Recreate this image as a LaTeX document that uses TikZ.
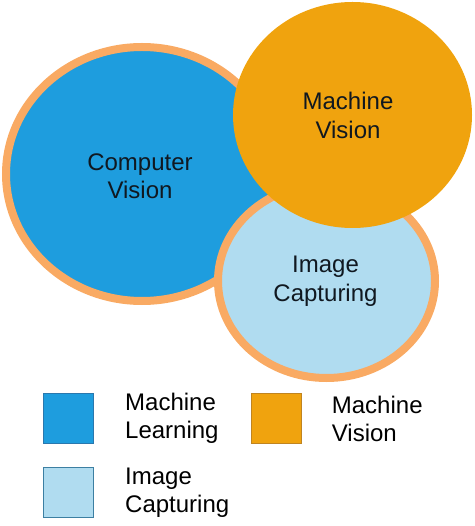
\documentclass[tikz,border=0pt]{standalone}
\usepackage{fontspec}
\setmainfont{Liberation Sans}
\usetikzlibrary{shapes.geometric}
\definecolor{cvblue}{HTML}{1E9DDE}
\definecolor{mvorange}{HTML}{F0A30E}
\definecolor{iclight}{HTML}{B0DCF0}
\definecolor{rimorange}{HTML}{F9AA63}
\definecolor{sqblueline}{HTML}{2A78AE}
\definecolor{sqorangeline}{HTML}{C08420}
\definecolor{sqlightline}{HTML}{3C7FA2}
\definecolor{txt}{HTML}{101820}
\begin{document}
\begin{tikzpicture}[x=1pt,y=-1pt,
  blob/.style={ellipse, inner sep=0pt},
  rimmed/.style={draw=rimorange, line width=8pt},
  lbl/.style={align=center, inner sep=0pt, text=txt, font=\fontsize{24}{28.5}\selectfont},
  legsq/.style={minimum width=50pt, minimum height=50pt, inner sep=0pt, line width=1pt, anchor=north west},
  legtxt/.style={align=left, inner sep=0pt, anchor=west, font=\fontsize{24}{28}\selectfont}]
\useasboundingbox (0,0) rectangle (474,526);
% circles
\node[blob, rimmed, fill=cvblue, minimum width=272pt, minimum height=254pt] (cv) at (142,174) {};
\node[blob, rimmed, fill=iclight, minimum width=217pt, minimum height=194pt] (ic) at (326.5,281) {};
\node[blob, fill=mvorange, minimum width=239pt, minimum height=226pt] (mv) at (352.5,115) {};
% labels
\node[lbl] (cvt) at (140,176) {Computer\\Vision};
\node[lbl] (mvt) at (348,115.5) {Machine\\Vision};
\node[lbl] (ict) at (325.5,281) {Image\\Capturing};
% legend
\node[legsq, fill=cvblue, draw=sqblueline] (sq1) at (43.3,393.3) {};
\node[legsq, fill=mvorange, draw=sqorangeline] (sq2) at (250.7,393.3) {};
\node[legsq, fill=iclight, draw=sqlightline] (sq3) at (43.3,467.3) {};
\node[legtxt] (l1) at (125,418.5) {Machine\\Learning};
\node[legtxt] (l2) at (331.7,418.5) {Machine\\Vision};
\node[legtxt] (l3) at (125,492.5) {Image\\Capturing};
\end{tikzpicture}
\end{document}
